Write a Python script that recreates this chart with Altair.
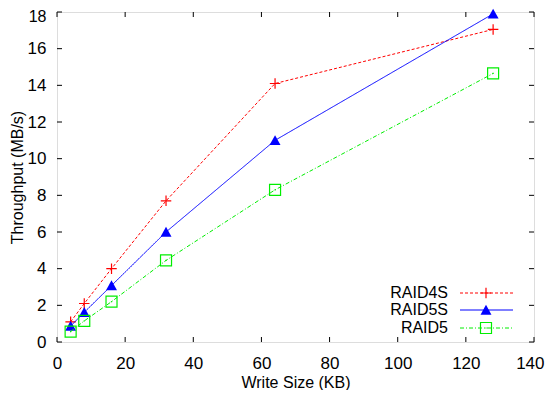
import altair as alt
import pandas as pd

# ---- data ----
write_size = [4, 8, 16, 32, 64, 128]
raid4s = [1.1, 2.1, 4.0, 7.7, 14.1, 17.05]
raid5s = [0.87, 1.62, 3.08, 6.0, 11.0, 17.9]
raid5 = [0.57, 1.15, 2.2, 4.45, 8.3, 14.65]

series_names = ["RAID4S", "RAID5S", "RAID5"]
series_colors = ["#ff0000", "#0000ff", "#00ee00"]
series_dash = [[3, 2], [1, 0], [4, 2, 1, 2]]

x_ticks = [0, 20, 40, 60, 80, 100, 120, 140]
y_ticks = [0, 2, 4, 6, 8, 10, 12, 14, 16, 18]

W, H = 477, 330
FONT = "Liberation Sans"
FS = 17

xs = alt.Scale(domain=[0, 140], nice=False, zero=False)
ys = alt.Scale(domain=[0, 18], nice=False, zero=False)

PLUS = "M-1,0H1M0,-1V1"
TRI = "M-1,0.85L1,0.85L0,-0.95Z"
SQR = "M-1,-1H1V1H-1Z"

rows = []
for name, vals in zip(series_names, [raid4s, raid5s, raid5]):
    for x, y in zip(write_size, vals):
        rows.append({"series": name, "size": x, "tp": y})
df = pd.DataFrame(rows)

xt = pd.DataFrame({"v": x_ticks})
yt = pd.DataFrame({"v": y_ticks})

common = dict(ticks=False, domain=False, grid=False, labelFont=FONT,
              titleFont=FONT, titleFontSize=16,
              titleFontWeight="normal", labelColor="black", titleColor="black",
              labelOverlap=False, labelFlush=False)

AX_X = alt.Axis(values=x_ticks, title="Write Size (KB)", labelPadding=13,
                titleY=40, titleBaseline="middle", labelFontSize=FS,
                labelAlign={"condition": {"test": "datum.value == 140", "value": "right"},
                            "value": "center"},
                labelOffset={"condition": {"test": "datum.value == 140", "value": 10},
                             "value": 0},
                **common)
AX_Y = alt.Axis(values=y_ticks, title="Throughput (MB/s)", labelPadding=11,
                titleX=-40, titleBaseline="middle",
                labelFontSize={"condition": {"test": "datum.value == 18", "value": 16},
                               "value": FS},
                labelOffset={"condition": {"test": "datum.value == 18", "value": 4},
                             "value": 0},
                **common)


def X(field):
    return alt.X(field, scale=xs, axis=AX_X)


def Y(field):
    return alt.Y(field, scale=ys, axis=AX_Y)


layers = []

TL = 5
layers.append(alt.Chart(xt).mark_rule(color="black", strokeWidth=1).encode(
    x=X("v:Q"), y=alt.value(H), y2=alt.value(H - TL)))
layers.append(alt.Chart(xt).mark_rule(color="black", strokeWidth=1).encode(
    x=X("v:Q"), y=alt.value(0), y2=alt.value(TL)))
layers.append(alt.Chart(yt).mark_rule(color="black", strokeWidth=1).encode(
    y=Y("v:Q"), x=alt.value(0), x2=alt.value(TL)))
layers.append(alt.Chart(yt).mark_rule(color="black", strokeWidth=1).encode(
    y=Y("v:Q"), x=alt.value(W), x2=alt.value(W - TL)))

shapes = [PLUS, TRI, SQR]
sizes = [110, 120, 121]
filled = [False, True, False]

leg_text_x = 391
leg_line_x0, leg_line_x1 = 403, 456
leg_mark_x = 429
leg_y = [281, 298, 316]

for i, name in enumerate(series_names):
    sub = df[df.series == name]
    c = series_colors[i]
    d = series_dash[i]
    layers.append(alt.Chart(sub).mark_line(color=c, strokeWidth=1, strokeDash=d).encode(
        x=X("size:Q"), y=Y("tp:Q")))
    pm = alt.Chart(sub).mark_point(shape=shapes[i], size=sizes[i], filled=filled[i],
                                   color=c, opacity=1,
                                   strokeWidth=0 if filled[i] else 1.2)
    layers.append(pm.encode(x=X("size:Q"), y=Y("tp:Q")))
    if i == 2:
        layers.append(alt.Chart(sub).mark_square(size=1.5, color=c, opacity=1).encode(
            x=X("size:Q"), y=Y("tp:Q")))

    ld = pd.DataFrame({"label": [name]})
    layers.append(alt.Chart(ld).mark_text(align="right", baseline="middle", font=FONT,
                                          fontSize=16, color="black").encode(
        text="label:N", x=alt.value(leg_text_x), y=alt.value(leg_y[i])))
    layers.append(alt.Chart(ld).mark_rule(color=c, strokeWidth=1, strokeDash=d).encode(
        x=alt.value(leg_line_x0), x2=alt.value(leg_line_x1), y=alt.value(leg_y[i])))
    layers.append(alt.Chart(ld).mark_point(shape=shapes[i], size=sizes[i],
                                           filled=filled[i], color=c, opacity=1,
                                           strokeWidth=0 if filled[i] else 1.2).encode(
        x=alt.value(leg_mark_x), y=alt.value(leg_y[i])))
    if i == 2:
        layers.append(alt.Chart(ld).mark_square(size=1.5, color=c, opacity=1).encode(
            x=alt.value(leg_mark_x), y=alt.value(leg_y[i])))

chart = alt.layer(*layers).properties(
    width=W, height=H,
    autosize=alt.AutoSizeParams(type="none"),
    padding={"left": 49, "top": 4, "right": 11, "bottom": 48},
).configure_view(stroke="black", strokeWidth=1).configure(background="white")

chart.save("out.html", embed_options={"renderer": "svg", "actions": False})
